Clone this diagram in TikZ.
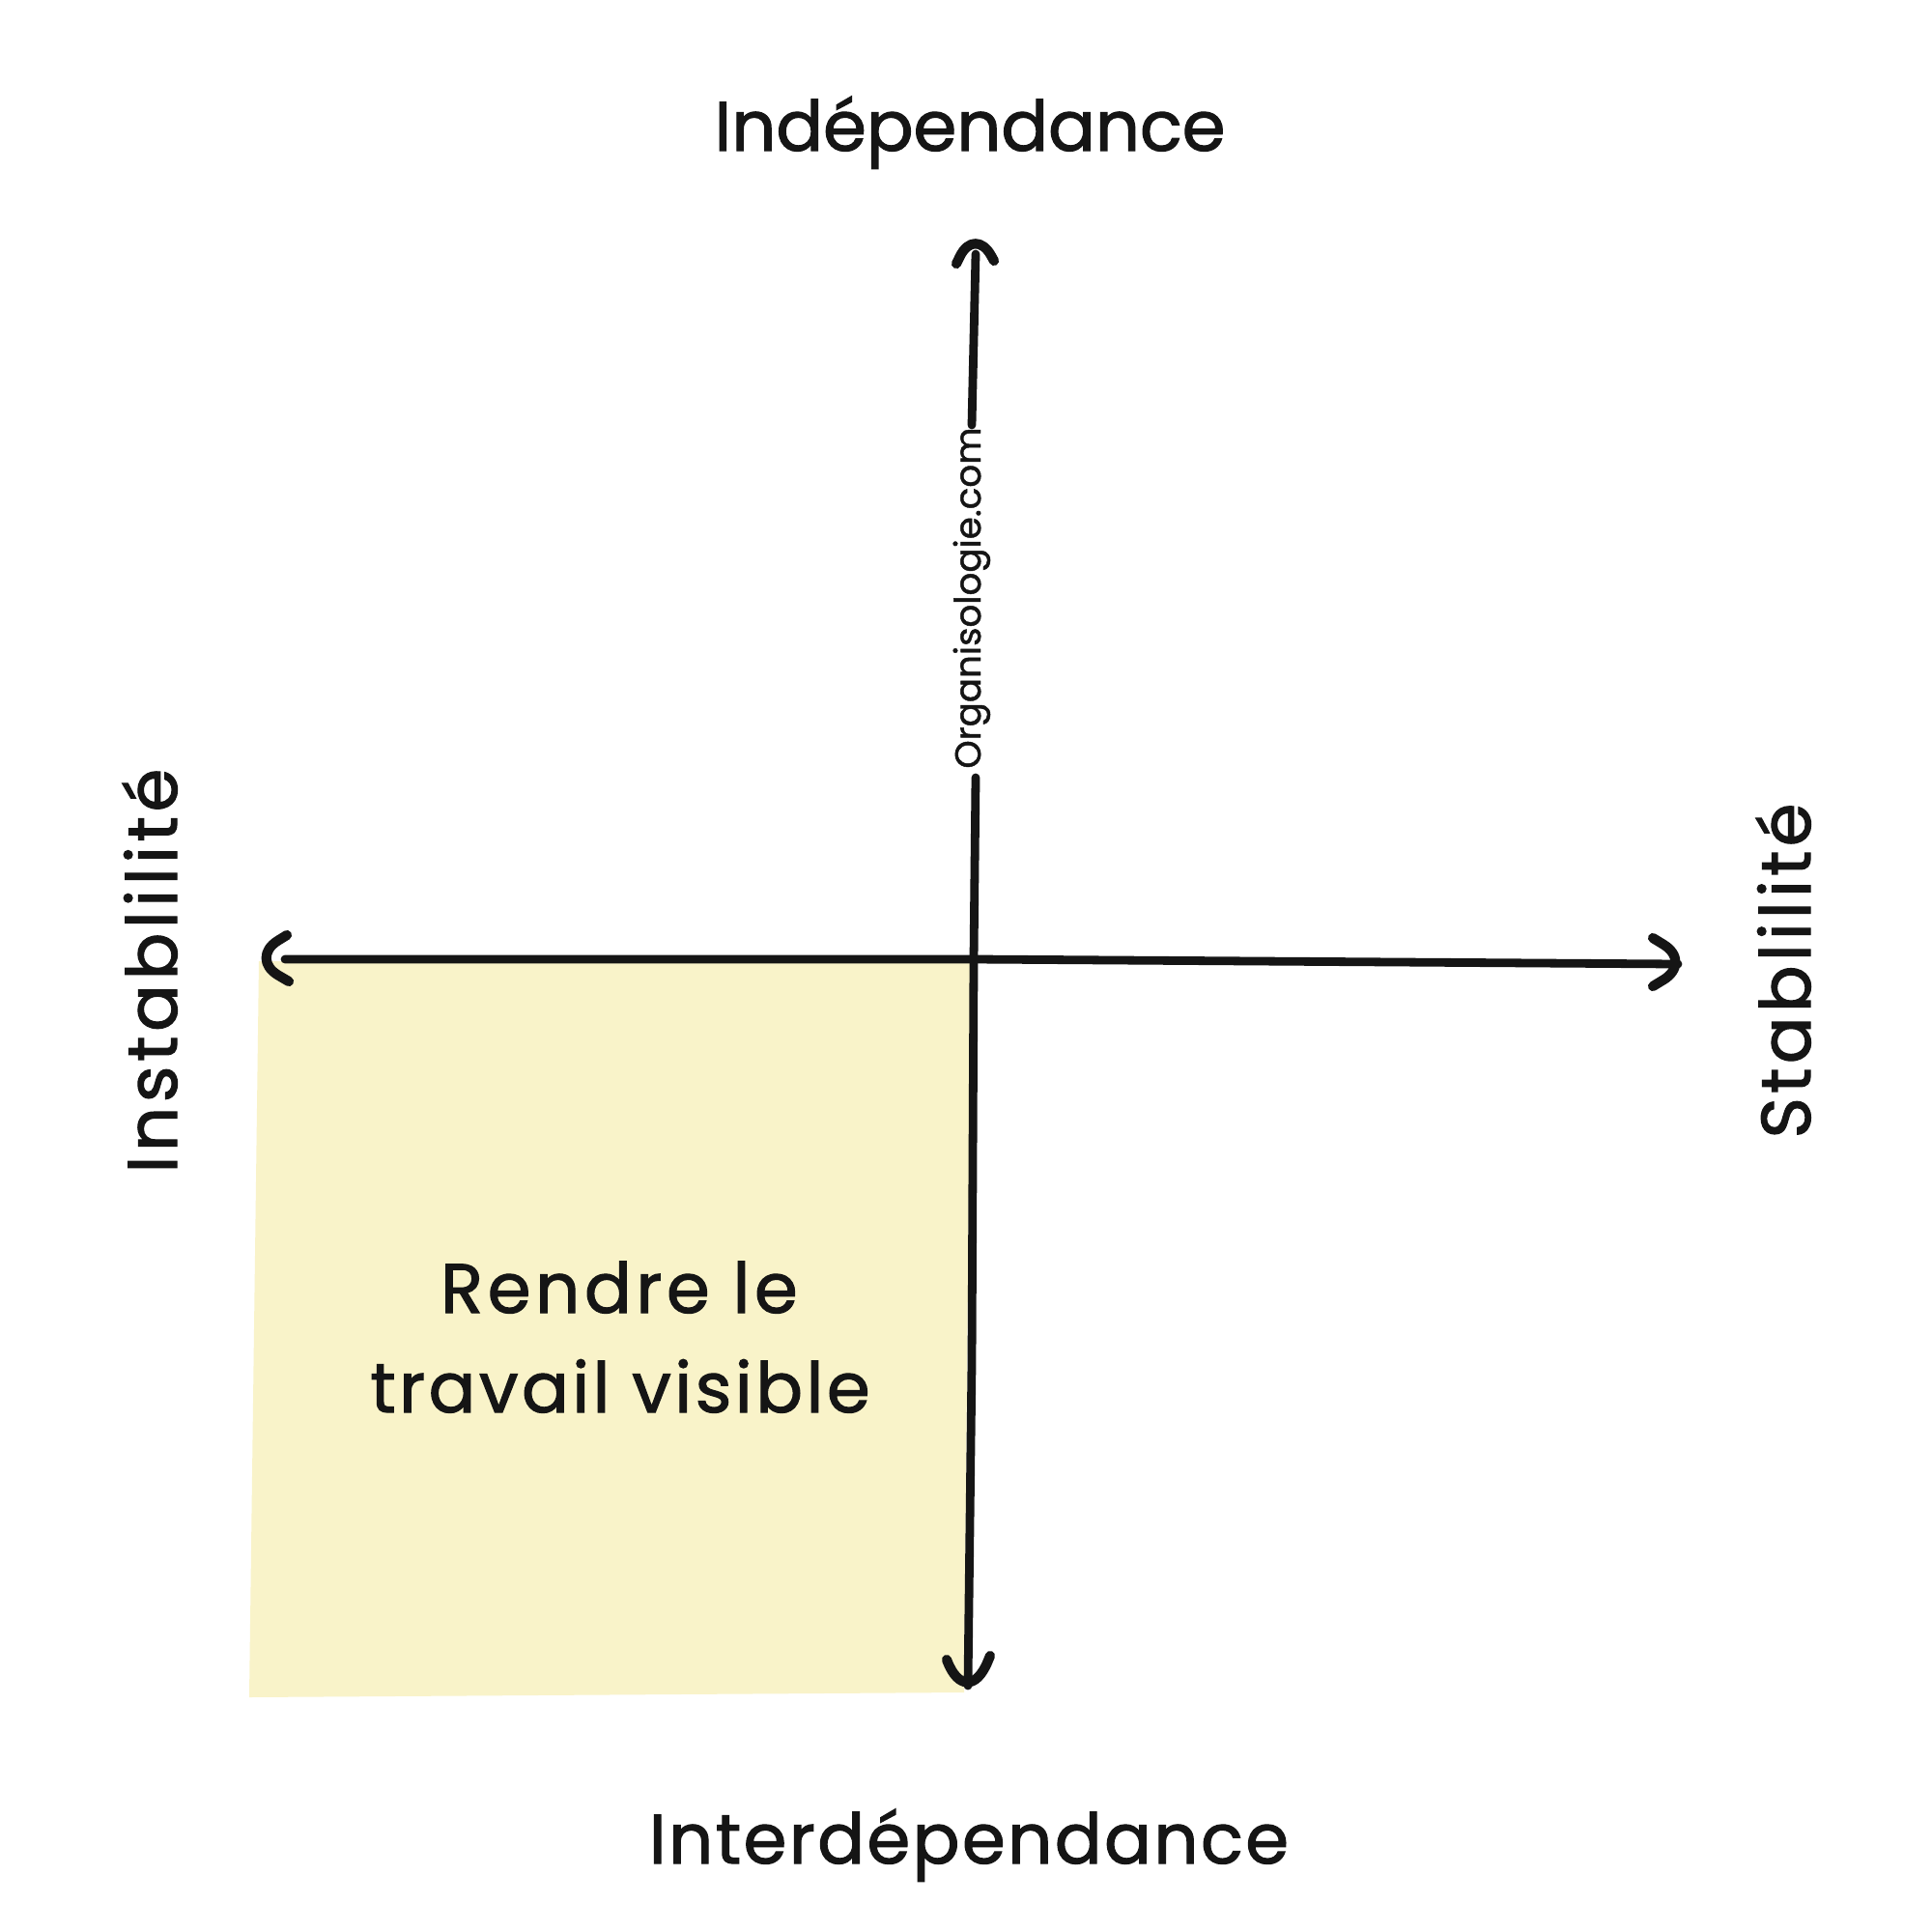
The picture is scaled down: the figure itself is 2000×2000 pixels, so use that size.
\documentclass[tikz,border=0pt]{standalone}
\usepackage{fontspec}
\newfontfamily\hand[LetterSpace=5, FakeBold=1.6]{Poppins}
\newfontfamily\handsmall[LetterSpace=0, FakeBold=1.2]{Poppins}
\definecolor{ink}{HTML}{151515}
\definecolor{sticky}{HTML}{F9F3C9}
\newcommand{\lsp}[1]{\addfontfeatures{LetterSpace=#1}}
\begin{document}
\begin{tikzpicture}[x=0.01cm,y=-0.01cm,
  axis/.style={line width=2.5pt, draw=ink, line cap=round, line join=round},
  head/.style={axis, line width=2.9pt, rounded corners=10},
  lbl/.style={font=\hand\fontsize{20.5}{25}\selectfont, text=ink, inner sep=0pt, anchor=base},
  small/.style={font=\handsmall\fontsize{10.6}{13}\selectfont, text=ink, inner sep=0pt, anchor=base}]
\useasboundingbox[fill=white] (0,0) rectangle (2000,2000);
% yellow quadrant
\fill[sticky] (268,995) -- (1005,995) -- (998,1752) -- (258,1757) -- cycle;
% coordinates
\coordinate (vtop) at (1010,263);
\coordinate (vgapA) at (1006,440);
\coordinate (vgapB) at (1010,805);
\coordinate (ctr) at (1008,993);
\coordinate (vmid) at (1006,1410);
\coordinate (vbot) at (1002,1745);
\coordinate (hleft) at (295,993);
\coordinate (hmid) at (1300,995);
\coordinate (hright) at (1737,998);
% axes
\draw[axis] (vtop) -- (vgapA);
\draw[axis] (vgapB) -- (ctr) -- (vmid) -- (vbot);
\draw[axis] (hleft) -- (ctr) -- (hmid) -- (hright);
% arrowheads
\coordinate (tTip) at (1009,234);
\coordinate (lTip) at (258,992);
\coordinate (rTip) at (1752,996);
\coordinate (bTip) at (1001,1772);
\draw[head] (990,273) -- (tTip) -- (1029,270);
\draw[head] (297,968) -- (lTip) -- (299,1016);
\draw[head] (1711,971) -- (rTip) -- (1711,1021);
\draw[head, rounded corners=16] (980,1718) -- (bTip) -- (1025,1714);
% labels
\node[lbl] (indep) at (1004,156) {\lsp{0}Indépendance};
\node[lbl] (interdep) at (1003,1929) {\lsp{3.5}Interdépendance};
\node[lbl, rotate=90] (instab) at (183,1005) {\lsp{6.5}Instablilité};
\node[lbl, rotate=90] (stab) at (1874,1005) {\lsp{6}Stablilité};
\node[small, rotate=90] (site) at (1015,619) {Organisologie.com};
\node[lbl] (rendre) at (641,1359) {\lsp{6.5}Rendre le};
\node[lbl] (travail) at (642,1462) {travail visible};
\end{tikzpicture}
\end{document}
